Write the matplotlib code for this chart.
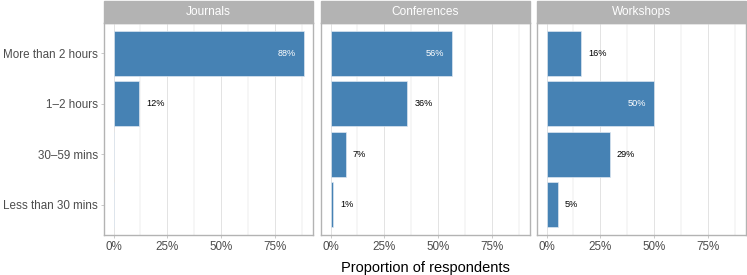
import matplotlib.pyplot as plt
from matplotlib.patches import Rectangle
from matplotlib.ticker import FixedLocator

plt.rcParams['font.family'] = ['Liberation Sans', 'DejaVu Sans']

venues = ["Journals", "Conferences", "Workshops"]
durations = ["More than 2 hours", "1\u20132 hours", "30\u201359 mins", "Less than 30 mins"]
journals = [0.884, 0.120, 0.0, 0.0]
conferences = [0.563, 0.356, 0.071, 0.012]
workshops = [0.160, 0.499, 0.293, 0.051]
labels = {
    "Journals": ["88%", "12%", None, None],
    "Conferences": ["56%", "36%", "7%", "1%"],
    "Workshops": ["16%", "50%", "29%", "5%"],
}
series = {"Journals": journals, "Conferences": conferences, "Workshops": workshops}
xticks = [0, 0.25, 0.5, 0.75]
xticklabels = ["0%", "25%", "50%", "75%"]

W, H = 747, 275
fig = plt.figure(figsize=(W / 100, H / 100), dpi=100)

bar_color = "#4682B4"
grid_color = "#DEDEDE"
border_color = "#B3B3B3"

panel_left = [104, 321, 537]
panel_w = 209
panel_top, panel_bot = 23, 235
strip_h = 22

for i, venue in enumerate(venues):
    ax = fig.add_axes([panel_left[i] / W, 1 - panel_bot / H, panel_w / W, (panel_bot - panel_top) / H])
    vals = series[venue]
    ypos = list(range(len(durations)))
    ax.barh(ypos, vals, height=0.9, color=bar_color, edgecolor="#DCE6F0", linewidth=0.5, zorder=3)
    ax.set_xlim(-0.044, 0.924)
    ax.set_ylim(3.6, -0.6)
    ax.set_yticks(ypos)
    if i == 0:
        ax.set_yticklabels(durations, fontsize=8.4, color="#4D4D4D")
    else:
        ax.set_yticklabels([])
        ax.tick_params(axis="y", length=0)
    ax.set_xticks(xticks)
    ax.set_xticklabels(xticklabels, fontsize=8.4, color="#4D4D4D")
    ax.xaxis.set_minor_locator(FixedLocator([0.125, 0.375, 0.625, 0.875]))
    ax.grid(True, axis="x", which="major", color=grid_color, linewidth=0.6, zorder=0)
    ax.grid(True, axis="x", which="minor", color=grid_color, linewidth=0.35, zorder=0)
    ax.tick_params(axis="both", which="major", width=0.5, color=border_color, pad=2)
    ax.tick_params(axis="x", which="major", length=2.5)
    if i == 0:
        ax.tick_params(axis="y", which="major", length=2.5)
    ax.tick_params(axis="x", which="minor", length=0)
    for s in ax.spines.values():
        s.set_color(border_color)
        s.set_linewidth(1.0)

    # value labels
    for y, v, lab in zip(ypos, vals, labels[venue]):
        if lab is None:
            continue
        if v > 0.45:
            ax.annotate(lab, (v, y), xytext=(-6, 0), textcoords="offset points",
                        ha="right", va="center", fontsize=6.6, color="white", zorder=4)
        else:
            ax.annotate(lab, (v, y), xytext=(5, 0), textcoords="offset points",
                        ha="left", va="center", fontsize=6.6, color="black", zorder=4)

    # facet strip
    sh = strip_h / (panel_bot - panel_top)
    ax.add_patch(Rectangle((0, 1), 1, sh, transform=ax.transAxes, facecolor=border_color,
                           edgecolor=border_color, linewidth=1.0, clip_on=False))
    ax.text(0.5, 1 + sh / 2, venue, transform=ax.transAxes, ha="center", va="center",
            fontsize=8.6, color="white")

fig.text((panel_left[1] + panel_w / 2) / W, 1 - 268 / H, "Proportion of respondents",
         ha="center", va="center", fontsize=10.5, color="black")

fig.savefig("out.png", dpi=100)
